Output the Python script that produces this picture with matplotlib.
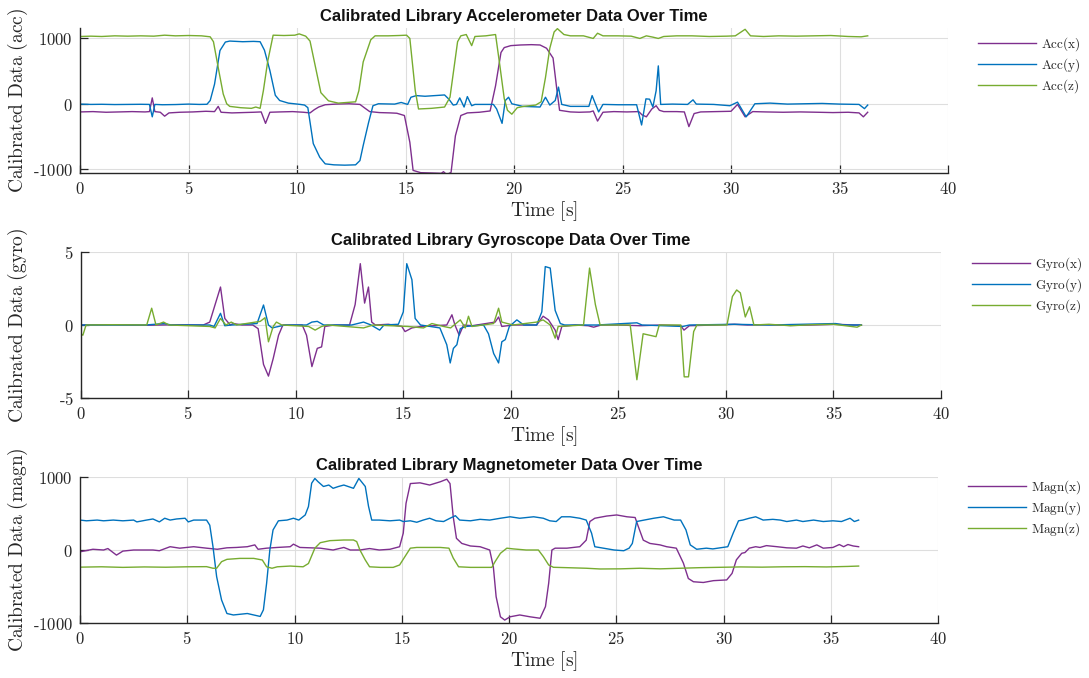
import matplotlib
matplotlib.use("Agg")
import matplotlib.pyplot as plt
from matplotlib.ticker import FuncFormatter

plt.rcParams["mathtext.fontset"] = "cm"

C_X = "#7E2F8E"
C_Y = "#0072BD"
C_Z = "#77AC30"
AX_COLOR = "#262626"

# ---- accelerometer (time [s], value) ----
acc_x_t = [0.0, 0.6, 1.2, 1.8, 2.4, 3.0, 3.2, 3.33, 3.45, 3.7, 3.9, 4.1, 4.6, 5.2, 5.8,
           6.2, 6.37, 6.5, 7.0, 7.5, 8.0, 8.35, 8.55, 8.75, 9.2, 9.8, 10.3, 10.6, 10.8,
           11.0, 11.3, 11.8, 12.4, 12.9, 13.1, 13.35, 13.8, 14.3, 14.6, 14.95, 15.2,
           15.35, 15.7, 16.2, 16.65, 16.75, 16.9, 17.1, 17.3, 17.55, 17.85, 18.4, 18.9,
           19.15, 19.4, 19.55, 19.85, 20.3, 20.8, 21.2, 21.5, 21.8, 21.97, 22.1, 22.6,
           23.0, 23.5, 23.65, 23.85, 24.1, 24.6, 25.2, 25.75, 25.9, 26.1, 26.35, 26.55,
           26.7, 26.9, 27.5, 27.85, 28.06, 28.3, 28.6, 29.3, 30.0, 30.3, 30.65, 31.0,
           31.6, 32.4, 33.2, 34.0, 34.7, 35.4, 35.9, 36.1, 36.3]
acc_x = [-125, -120, -130, -125, -120, -125, -120, 90, -120, -130, -190, -140, -130,
         -125, -115, -120, -40, -130, -140, -135, -130, -125, -300, -130, -125, -120,
         -130, -140, -90, -50, -15, -5, 0, -10, -60, -120, -135, -140, -145, -180, -590,
         -1020, -1055, -1060, -1065, -1040, -1085, -1050, -490, -180, -140, -130, -110,
         275, 785, 860, 890, 900, 905, 900, 850, 700, 230, -100, -125, -130, -125, -110,
         -265, -130, -120, -125, -120, -170, -200, -80, -30, -100, -120, -120, -125,
         -350, -150, -125, -120, -115, -10, -200, -120, -125, -130, -125, -130, -135,
         -130, -140, -200, -130]

acc_y_t = [0.0, 0.5, 1.0, 1.6, 2.2, 2.8, 3.2, 3.33, 3.45, 3.8, 4.4, 5.0, 5.5, 5.85, 6.0,
           6.2, 6.45, 6.7, 6.9, 7.5, 8.0, 8.3, 8.5, 8.75, 9.0, 9.2, 9.6, 10.15, 10.35,
           10.5, 10.75, 11.05, 11.3, 11.7, 12.2, 12.7, 12.9, 13.05, 13.3, 13.5, 13.75,
           14.5, 14.8, 15.1, 15.25, 15.5, 15.9, 16.35, 16.8, 17.0, 17.2, 17.35, 17.5,
           17.7, 17.85, 18.05, 18.2, 19.05, 19.2, 19.45, 19.6, 19.75, 19.9, 20.4, 21.2,
           21.45, 21.65, 21.9, 22.05, 22.2, 22.6, 23.45, 23.6, 23.9, 24.1, 24.8, 25.65,
           25.88, 26.08, 26.25, 26.4, 26.55, 26.65, 26.76, 27.3, 28.0, 28.25, 28.4, 29.2,
           29.95, 30.3, 30.7, 31.1, 31.8, 32.6, 33.4, 34.2, 35.0, 35.9, 36.15, 36.3]
acc_y = [-5, -10, -8, -12, -10, -8, -10, -200, -10, -15, -12, -5, -10, -8, 50, 300, 815,
         945, 960, 950, 955, 950, 820, 510, 130, 50, 10, -10, -20, -60, -610, -820, -920,
         -935, -940, -935, -870, -640, -285, -30, 0, -5, 20, -10, 100, 125, 115, 125, 135,
         70, -20, -10, 90, -50, 110, -30, -10, -10, -80, -300, 50, 100, 0, -40, -50, 100,
         -20, 50, 255, -10, -40, -40, 125, -125, -10, -15, -15, -325, 75, 70, -50, 200,
         580, -10, -5, -10, 60, -5, -10, -30, 25, -200, 0, 10, -5, 0, 5, -5, -10, -75, -20]

acc_z_t = [0.0, 0.5, 1.0, 1.6, 2.2, 2.8, 3.4, 3.9, 4.4, 5.0, 5.6, 6.0, 6.15, 6.4, 6.6,
           6.76, 6.9, 7.4, 7.9, 8.1, 8.3, 8.45, 8.65, 8.9, 9.4, 9.9, 10.1, 10.4, 10.6,
           11.1, 11.45, 11.9, 12.3, 12.7, 12.85, 13.05, 13.4, 13.6, 14.2, 14.7, 15.05,
           15.2, 15.45, 15.6, 16.2, 16.8, 17.05, 17.4, 17.55, 17.8, 18.05, 18.2, 18.7,
           19.15, 19.35, 19.55, 19.7, 19.9, 20.15, 20.45, 21.0, 21.25, 21.45, 21.65,
           21.85, 22.0, 22.3, 22.6, 23.2, 23.65, 23.85, 24.1, 24.8, 25.4, 25.8, 26.1,
           26.4, 26.65, 26.9, 27.5, 28.2, 29.0, 29.8, 30.2, 30.65, 30.9, 31.5, 32.2,
           33.0, 33.8, 34.6, 35.4, 36.0, 36.3]
acc_z = [1030, 1035, 1030, 1040, 1035, 1040, 1035, 1050, 1040, 1045, 1040, 1025, 950,
         500, 150, 0, -40, -60, -70, -50, -70, 200, 650, 1050, 1045, 1050, 1070, 1035,
         960, 170, 45, 10, 20, 30, 200, 640, 980, 1040, 1040, 1045, 1050, 1000, 200, -80,
         -70, -50, 100, 950, 1040, 1060, 890, 1030, 1040, 1060, 580, 80, -100, -160, -60,
         -40, -20, 30, 400, 850, 1100, 1150, 1060, 1040, 1040, 1000, 1080, 1040, 1040,
         1035, 1000, 1040, 1020, 1000, 1030, 1040, 1040, 1030, 1035, 1040, 1140, 1040,
         1030, 1040, 1035, 1040, 1045, 1030, 1025, 1040]

# ---- gyroscope ----
gyro_x_t = [0.0, 1.5, 3.0, 4.5, 5.7, 6.0, 6.25, 6.5, 6.7, 6.95, 7.1, 7.5, 8.0, 8.25, 8.5,
            8.73, 8.95, 9.2, 9.4, 10.3, 10.5, 10.75, 11.0, 11.2, 11.35, 11.8, 12.5, 12.76,
            13.0, 13.2, 13.38, 13.53, 13.7, 14.3, 14.93, 15.08, 15.4, 15.8, 16.4, 17.02,
            17.26, 17.4, 17.6, 17.8, 18.2, 19.27, 19.43, 19.58, 20.1, 21.2, 21.5, 21.75,
            22.06, 22.2, 22.37, 23.0, 23.6, 23.85, 24.2, 25.0, 26.0, 27.0, 27.9, 28.05,
            28.3, 29.5, 30.4, 31.0, 32.0, 33.0, 34.0, 35.1, 36.0, 36.3]
gyro_x = [0, 0.02, -0.02, 0.02, 0, 0.2, 1.4, 2.6, 0.45, 0, 0.1, 0, 0, -0.25, -2.7, -3.5,
          -2.3, -0.7, 0, 0, -0.7, -2.85, -1.6, -1.5, -0.1, 0, 0, 1.4, 4.2, 1.5, 2.6, 0.2,
          0, 0.05, -0.1, -0.45, -0.2, -0.1, -0.05, 0, 0.7, 0, -0.7, 0, -0.05, 0.2, 0.55,
          -0.1, 0, 0, 0.6, 0.35, -0.35, -1.0, -0.1, 0, -0.05, -0.15, 0, 0, -0.05, 0,
          -0.05, -0.35, -0.05, 0, 0.05, 0, 0.02, -0.03, 0, 0.05, 0, 0]

gyro_y_t = [0.0, 1.5, 3.0, 3.9, 4.2, 6.0, 6.2, 6.5, 6.7, 7.0, 8.2, 8.5, 8.73, 8.9, 9.2,
            9.5, 10.5, 10.75, 11.0, 11.3, 12.6, 13.15, 13.5, 13.9, 14.1, 14.77, 15.0,
            15.16, 15.4, 15.55, 15.8, 16.25, 16.7, 17.02, 17.18, 17.33, 17.49, 17.65,
            17.9, 18.73, 18.96, 19.2, 19.43, 19.58, 19.74, 19.93, 20.28, 20.6, 21.2,
            21.44, 21.6, 21.83, 22.06, 22.3, 22.5, 24.0, 25.86, 26.1, 28.0, 28.3, 30.4,
            32.0, 35.1, 35.5, 36.3]
gyro_y = [0, 0, 0, 0.1, 0, 0, -0.1, 0.8, -0.05, 0, 0.1, 1.37, 0, -0.2, -0.1, 0, 0, 0.2,
          0.25, 0, 0, 0.2, 0, -0.35, 0, 0.05, 0.9, 4.2, 3.1, 0.45, 0, -0.1, -0.2, -1.35,
          -2.6, -1.6, -1.35, -0.25, -0.1, 0, -0.6, -1.95, -2.6, -1.15, -1.0, -0.1, 0.35,
          0, 0, 0.9, 4.0, 3.9, 1.0, 0.1, 0, 0, 0.15, 0, -0.1, 0, 0.05, 0, 0.1, 0, 0]

gyro_z_t = [0.0, 0.1, 0.25, 1.5, 3.07, 3.3, 3.5, 3.85, 4.1, 6.0, 6.25, 6.5, 6.75, 7.0,
            7.25, 8.35, 8.57, 8.73, 8.95, 9.1, 9.35, 10.6, 10.9, 11.2, 11.5, 13.15, 13.6,
            15.2, 15.94, 16.33, 16.87, 17.2, 17.65, 17.88, 18.03, 18.19, 19.2, 19.43,
            19.58, 20.1, 21.2, 21.5, 21.83, 22.06, 22.2, 23.38, 23.66, 23.93, 24.15,
            25.55, 25.86, 26.15, 26.45, 26.75, 26.9, 27.9, 28.06, 28.26, 28.5, 28.65,
            30.05, 30.3, 30.5, 30.67, 30.9, 31.1, 31.3, 32.0, 33.0, 34.0, 35.0, 36.1, 36.3]
gyro_z = [-0.6, -0.7, 0, 0.02, 0, 1.15, 0, 0.2, 0, -0.1, -0.2, 0.45, 0, 0.2, 0, 0.25,
          0.5, -1.15, -0.1, 0.2, 0, -0.1, -0.35, -0.1, 0, -0.2, 0, -0.1, -0.2, 0.1, -0.1,
          -0.2, 0.35, -0.2, 0.6, -0.1, 0.1, 1.15, 0.2, 0, 0.2, 0.35, 0, -0.9, -0.1, 0,
          3.9, 1.4, 0, 0, -3.75, -0.6, -0.7, -0.8, 0, 0, -3.55, -3.55, -0.45, 0, 0, 1.95,
          2.4, 2.2, 0.55, 1.25, 0, 0.05, -0.05, 0.02, 0.05, -0.15, 0]

# ---- magnetometer ----
magn_x_t = [0.0, 0.6, 1.1, 1.3, 1.7, 2.0, 2.5, 2.95, 3.4, 3.7, 4.2, 4.65, 5.3, 5.9, 6.4,
            6.85, 7.3, 7.8, 8.15, 8.3, 8.7, 9.2, 9.8, 9.95, 10.25, 11.2, 11.8, 12.3, 12.6,
            13.05, 13.5, 13.95, 14.45, 14.9, 15.07, 15.2, 15.4, 15.85, 16.3, 16.8, 17.1,
            17.25, 17.4, 17.55, 17.8, 18.2, 18.65, 19.1, 19.27, 19.4, 19.6, 19.8, 20.05,
            20.5, 20.98, 21.45, 21.7, 21.85, 22.0, 22.15, 22.7, 23.3, 23.6, 23.77, 24.0,
            24.55, 25.02, 25.5, 25.88, 26.03, 26.26, 26.57, 27.04, 27.35, 27.8, 28.13,
            28.36, 28.6, 29.06, 29.53, 30.15, 30.4, 30.6, 30.85, 31.0, 31.2, 31.5, 31.7,
            32.0, 32.5, 32.95, 33.4, 33.7, 34.0, 34.35, 34.65, 35.1, 35.4, 35.6, 35.8,
            36.05, 36.3]
magn_x = [-25, 10, 0, 20, -70, -15, 0, 0, 0, -10, 45, 25, 45, 25, 10, 30, 35, 45, 70, 10,
          25, 35, 45, 80, 35, 25, 0, 35, 0, 0, 20, 0, 10, 45, 230, 640, 910, 920, 890,
          935, 970, 910, 455, 160, 90, 55, 45, 0, -230, -640, -915, -960, -915, -890,
          -915, -935, -775, -455, 0, 25, 25, 45, 135, 390, 435, 465, 480, 455, 445, 320,
          135, 90, 70, 45, 25, -180, -390, -435, -445, -420, -410, -320, -135, -45, -35,
          25, 45, 35, 60, 45, 30, 25, 55, 30, 70, 25, 35, 75, 45, 75, 55, 45]

magn_y_t = [0.0, 0.3, 0.8, 1.1, 1.55, 2.0, 2.5, 2.65, 3.1, 3.4, 3.7, 3.95, 4.2, 4.5, 4.9,
            5.05, 5.3, 5.9, 6.05, 6.2, 6.37, 6.6, 6.85, 7.15, 7.8, 8.1, 8.4, 8.55, 8.7,
            8.85, 9.0, 9.25, 9.65, 9.95, 10.2, 10.5, 10.65, 10.8, 10.95, 11.1, 11.35,
            11.6, 11.8, 12.05, 12.3, 12.5, 12.75, 13.0, 13.3, 13.45, 13.6, 13.95, 14.45,
            14.9, 15.07, 15.4, 15.7, 16.0, 16.3, 16.6, 16.95, 17.25, 17.5, 17.7, 18.2,
            18.65, 19.1, 19.6, 20.05, 20.5, 21.15, 21.6, 21.9, 22.2, 22.45, 22.85, 23.3,
            23.6, 23.85, 24.0, 24.4, 24.9, 25.35, 25.6, 25.75, 25.95, 26.3, 26.75, 27.2,
            27.7, 28.0, 28.25, 28.45, 28.75, 29.2, 29.5, 29.85, 30.2, 30.45, 30.7, 30.9,
            31.2, 31.5, 31.85, 32.3, 32.65, 32.95, 33.4, 33.7, 34.2, 34.65, 35.1, 35.5,
            35.9, 36.1, 36.3]
magn_y = [410, 400, 410, 400, 410, 400, 410, 385, 410, 425, 385, 435, 410, 425, 435, 385,
          410, 410, 340, 45, -365, -685, -870, -890, -870, -890, -910, -820, -455, 0, 275,
          400, 410, 435, 410, 480, 595, 915, 980, 935, 870, 890, 845, 870, 890, 870, 845,
          980, 870, 600, 410, 410, 400, 410, 390, 400, 380, 410, 435, 400, 390, 435, 470,
          410, 400, 420, 410, 435, 455, 435, 455, 435, 400, 390, 455, 455, 435, 410, 230,
          45, 25, 0, -10, 25, 90, 390, 410, 435, 455, 410, 410, 275, 70, 10, 25, 15, 30,
          45, 230, 400, 410, 435, 455, 410, 420, 410, 390, 410, 390, 410, 390, 400, 390,
          435, 390, 410]

magn_z_t = [0.0, 1.0, 2.0, 3.0, 4.0, 5.0, 5.9, 6.2, 6.37, 6.6, 6.85, 7.45, 8.1, 8.5, 8.7,
            8.95, 9.2, 9.8, 10.4, 10.65, 10.95, 11.2, 11.65, 12.3, 12.75, 12.9, 13.05,
            13.3, 13.5, 14.0, 14.6, 14.9, 15.15, 15.4, 15.7, 16.2, 16.8, 17.2, 17.4,
            17.65, 18.2, 18.8, 19.2, 19.35, 19.6, 19.9, 20.2, 20.8, 21.37, 21.6, 21.85,
            22.07, 22.7, 23.6, 24.25, 25.2, 26.1, 27.05, 27.97, 28.9, 29.85, 30.8, 31.8,
            32.8, 33.8, 34.8, 35.8, 36.3]
magn_z = [-235, -230, -238, -232, -236, -230, -228, -250, -250, -160, -128, -115, -115,
          -137, -230, -250, -230, -220, -230, -185, 25, 100, 128, 137, 137, 115, 0, -137,
          -230, -238, -238, -205, -90, 25, 35, 35, 35, 25, -110, -230, -238, -238, -238,
          -160, -45, 25, 15, 0, 0, -90, -205, -237, -242, -250, -260, -258, -250, -258,
          -250, -242, -237, -232, -235, -230, -228, -232, -225, -220]

PANELS = [
    ("Calibrated Library Accelerometer Data Over Time", "acc", "Acc",
     [(acc_x_t, acc_x), (acc_y_t, acc_y), (acc_z_t, acc_z)],
     [-1000, 0, 1000], (-1060, 1160)),
    ("Calibrated Library Gyroscope Data Over Time", "gyro", "Gyro",
     [(gyro_x_t, gyro_x), (gyro_y_t, gyro_y), (gyro_z_t, gyro_z)],
     [-5, 0, 5], (-5, 5)),
    ("Calibrated Library Magnetometer Data Over Time", "magn", "Magn",
     [(magn_x_t, magn_x), (magn_y_t, magn_y), (magn_z_t, magn_z)],
     [-1000, 0, 1000], (-1000, 1000)),
]

W, H = 1089, 678
# axes boxes in pixels: left, right, top, bottom
BOXES = [(80, 948, 28, 173), (80.7, 941, 252, 398), (80, 938, 477, 623)]
LEGEND_XY = [(978, 35), (972, 255), (968, 478)]


def tick_label(v, pos):
    # short hyphen for negatives, like the LaTeX text-mode ticks
    s = f"{abs(v):g}"
    return rf"$\mathrm{{\text{{-}}{s}}}$" if v < 0 else rf"$\mathrm{{{s}}}$"


fig = plt.figure(figsize=(W / 100, H / 100), dpi=100)
mfmt = FuncFormatter(tick_label)

for (title, unit, prefix, series, yticks, ylim), box, leg in zip(PANELS, BOXES, LEGEND_XY):
    l, r, t, b = box
    ax = fig.add_axes([l / W, 1 - b / H, (r - l) / W, (b - t) / H])
    for (tt, vv), col, comp in zip(series, (C_X, C_Y, C_Z), "xyz"):
        ax.plot(tt, vv, color=col, lw=1.0, label=rf"$\mathrm{{{prefix}({comp})}}$")
    ax.set_xlim(0, 40)
    ax.set_ylim(*ylim)
    ax.set_xticks(range(0, 41, 5))
    ax.set_yticks(yticks)
    ax.xaxis.set_major_formatter(mfmt)
    ax.yaxis.set_major_formatter(mfmt)
    ax.grid(True, color="#dedede", lw=0.8)
    ax.set_axisbelow(True)
    for s in ("top", "right"):
        ax.spines[s].set_visible(False)
    for s in ("left", "bottom"):
        ax.spines[s].set_color(AX_COLOR)
        ax.spines[s].set_linewidth(1.0)
    ax.tick_params(direction="in", length=5.5, width=0.9, color=AX_COLOR,
                   labelcolor=AX_COLOR, labelsize=12, pad=5)
    ax.set_title(title, fontsize=12, fontweight="bold", family="Liberation Sans",
                 color="#111111", pad=5)
    ax.set_xlabel(r"$\mathrm{Time\ [s]}$", fontsize=14, color=AX_COLOR, va="center")
    ax.xaxis.set_label_coords(0.5, 1 - (b + 38) / H, transform=fig.transFigure)
    ax.set_ylabel(rf"$\mathrm{{Calibrated\ Data\ ({unit})}}$", fontsize=14,
                  color=AX_COLOR, va="center")
    ax.yaxis.set_label_coords(18 / W, 1 - (t + b) / 2 / H, transform=fig.transFigure)
    ax.xaxis.label.set_x(0.5)
    lg = ax.legend(loc="upper left", bbox_to_anchor=(leg[0] / W, 1 - leg[1] / H),
                   bbox_transform=fig.transFigure, frameon=False, fontsize=9.5,
                   handlelength=4.4, handletextpad=0.4, labelspacing=0.25,
                   borderpad=0, borderaxespad=0)
    for txt in lg.get_texts():
        txt.set_color(AX_COLOR)

fig.savefig("out.png", dpi=100)
